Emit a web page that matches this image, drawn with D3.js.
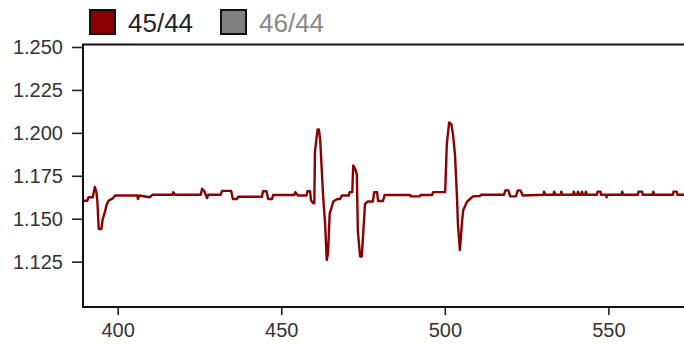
<!DOCTYPE html>
<html>
<head>
<script src="https://d3js.org/d3.v7.min.js"></script>
<style>
  body { margin: 0; background: #fff; }
  svg { display: block; font-family: "Liberation Sans", Arial, Helvetica, sans-serif; }
</style>
</head>
<body>
<div id="chart"></div>
<script>
// legend entries (46/44 is switched off, so only 45/44 is drawn)
var seriesNames = ["45/44", "46/44"];
var seriesColors = ["#8b0000", "#808080"];
var seriesShown = [true, false];

// tick labels
var xTicks = [400, 450, 500, 550];
var yTicks = [1.125, 1.150, 1.175, 1.200, 1.225, 1.250];

// 45/44 ratio
var mass = [
  389.4, 390.7, 391.1, 392.4, 393.0, 393.5, 393.8, 394.2, 395.0, 395.4,
  396.1, 396.6, 397.2, 398.6, 399.2, 406.0, 406.2, 406.6, 409.8, 410.7,
  416.8, 417.0, 417.5, 425.4, 425.8, 426.5, 427.3, 427.7, 431.5, 431.9,
  434.7, 435.2, 436.5, 436.8, 444.1, 444.4, 445.5, 446.0, 447.2, 447.5,
  454.0, 454.3, 455.1, 457.7, 458.0, 458.8, 459.1, 459.8, 460.1, 460.3,
  461.1, 461.5, 461.9, 462.5, 462.8, 463.4, 463.9, 464.3, 464.8, 465.9,
  467.1, 468.0, 468.5, 470.6, 470.9, 471.7, 472.0, 472.6, 473.1, 473.4,
  474.1, 474.6, 475.0, 475.6, 476.5, 478.0, 478.4, 479.3, 479.6, 481.1,
  481.6, 489.4, 489.6, 492.3, 492.6, 496.1, 496.4, 500.1, 500.6, 501.3,
  502.0, 502.5, 503.1, 503.7, 504.0, 504.6, 505.2, 505.6, 506.8, 507.7,
  508.6, 510.8, 511.0, 518.1, 518.5, 519.4, 520.0, 521.7, 522.3, 523.1,
  523.8, 530.2, 530.3, 530.7, 533.2, 533.4, 533.8, 535.4, 535.6, 535.9,
  539.2, 539.4, 539.8, 540.5, 540.7, 541.0, 541.7, 541.9, 542.2, 542.9,
  543.1, 543.4, 546.5, 546.7, 547.6, 547.7, 549.3, 549.4, 549.7, 554.0,
  554.2, 554.5, 559.0, 559.2, 560.3, 560.5, 563.5, 563.7, 564.0, 569.7,
  569.9, 570.9, 571.1, 573.1
];
var ratio4544 = [
  1.1605, 1.1605, 1.1625, 1.1625, 1.1685, 1.1655, 1.1600, 1.1440, 1.1440, 1.1495,
  1.1540, 1.1580, 1.1605, 1.1620, 1.1635, 1.1635, 1.1615, 1.1635, 1.1625, 1.1640,
  1.1640, 1.1655, 1.1640, 1.1640, 1.1675, 1.1660, 1.1620, 1.1640, 1.1640, 1.1662,
  1.1662, 1.1615, 1.1615, 1.1628, 1.1628, 1.1660, 1.1660, 1.1615, 1.1615, 1.1638,
  1.1638, 1.1655, 1.1635, 1.1635, 1.1660, 1.1660, 1.1606, 1.1590, 1.1590, 1.1890,
  1.2020, 1.2020, 1.1960, 1.1740, 1.1630, 1.1470, 1.1260, 1.1300, 1.1530, 1.1600,
  1.1615, 1.1615, 1.1635, 1.1635, 1.1655, 1.1655, 1.1810, 1.1790, 1.1760, 1.1430,
  1.1280, 1.1280, 1.1400, 1.1587, 1.1600, 1.1600, 1.1655, 1.1655, 1.1603, 1.1603,
  1.1638, 1.1638, 1.1630, 1.1630, 1.1638, 1.1638, 1.1655, 1.1655, 1.1933, 1.2060,
  1.2050, 1.1990, 1.1875, 1.1630, 1.1470, 1.1317, 1.1470, 1.1548, 1.1600, 1.1615,
  1.1630, 1.1632, 1.1640, 1.1640, 1.1665, 1.1665, 1.1630, 1.1630, 1.1665, 1.1665,
  1.1635, 1.1640, 1.1658, 1.1640, 1.1640, 1.1658, 1.1640, 1.1640, 1.1658, 1.1640,
  1.1640, 1.1658, 1.1640, 1.1640, 1.1658, 1.1640, 1.1640, 1.1658, 1.1640, 1.1640,
  1.1658, 1.1640, 1.1640, 1.1658, 1.1658, 1.1640, 1.1640, 1.1625, 1.1640, 1.1640,
  1.1658, 1.1640, 1.1640, 1.1658, 1.1658, 1.1640, 1.1640, 1.1658, 1.1640, 1.1640,
  1.1658, 1.1658, 1.1640, 1.1640
];

var width = 684, height = 344;
var plotLeft = 83, plotRight = 684, plotTop = 44.5, plotBottom = 307;

var svg = d3.select("#chart").append("svg")
    .attr("width", width)
    .attr("height", height);

var x = d3.scaleLinear().domain([389.4, 573.1]).range([plotLeft, plotRight]);
var y = d3.scaleLinear().domain([1.0986, 1.25]).range([plotBottom, 47]);

var points = mass.map(function(m, i) { return [m, ratio4544[i]]; });

svg.append("clipPath").attr("id", "plot")
  .append("rect")
    .attr("x", plotLeft).attr("y", plotTop)
    .attr("width", plotRight - plotLeft + 10).attr("height", plotBottom - plotTop);

/* the series */
var line = d3.line()
    .x(function(d) { return x(d[0]); })
    .y(function(d) { return y(d[1]); });

seriesNames.forEach(function(name, i) {
    if (!seriesShown[i]) return;
    svg.append("path")
        .datum(points)
        .attr("clip-path", "url(#plot)")
        .attr("fill", "none")
        .attr("stroke", seriesColors[i])
        .attr("stroke-width", 2.4)
        .attr("stroke-linejoin", "round")
        .attr("d", line);
});

/* axes */
var yAxis = svg.append("g")
    .attr("transform", "translate(" + plotLeft + ",0)")
    .call(d3.axisLeft(y).tickValues(yTicks).tickFormat(d3.format(".3f")).tickSize(11).tickPadding(9).tickSizeOuter(0));
yAxis.select(".domain").remove();
yAxis.selectAll("line").attr("stroke", "#222").attr("stroke-width", 1.6);
yAxis.selectAll("text").attr("font-size", "20px").attr("fill", "#333")
    .attr("font-family", "Liberation Sans, Arial, sans-serif");

var xAxis = svg.append("g")
    .attr("transform", "translate(0," + plotBottom + ")")
    .call(d3.axisBottom(x).tickValues(xTicks).tickSize(8).tickPadding(8).tickSizeOuter(0));
xAxis.select(".domain").remove();
xAxis.selectAll("line").attr("stroke", "#222").attr("stroke-width", 1.6);
xAxis.selectAll("text").attr("font-size", "20px").attr("fill", "#333")
    .attr("font-family", "Liberation Sans, Arial, sans-serif");

/* frame */
svg.append("path")
    .attr("d", "M" + (plotRight + 5) + "," + plotTop + "H" + plotLeft + "V" + plotBottom + "H" + (plotRight + 5))
    .attr("fill", "none")
    .attr("stroke", "#111")
    .attr("stroke-width", 2);

/* legend */
var legend = svg.append("g");
var legendX = [90, 221];
seriesNames.forEach(function(name, i) {
    legend.append("rect")
        .attr("x", legendX[i]).attr("y", 10)
        .attr("width", 25).attr("height", 24)
        .attr("fill", seriesColors[i])
        .attr("stroke", "#111")
        .attr("stroke-width", 2);
    legend.append("text")
        .attr("x", legendX[i] + 38).attr("y", 32)
        .attr("font-size", "26px")
        .attr("fill", seriesShown[i] ? "#222" : "#888")
        .text(name);
});
</script>
</body>
</html>
